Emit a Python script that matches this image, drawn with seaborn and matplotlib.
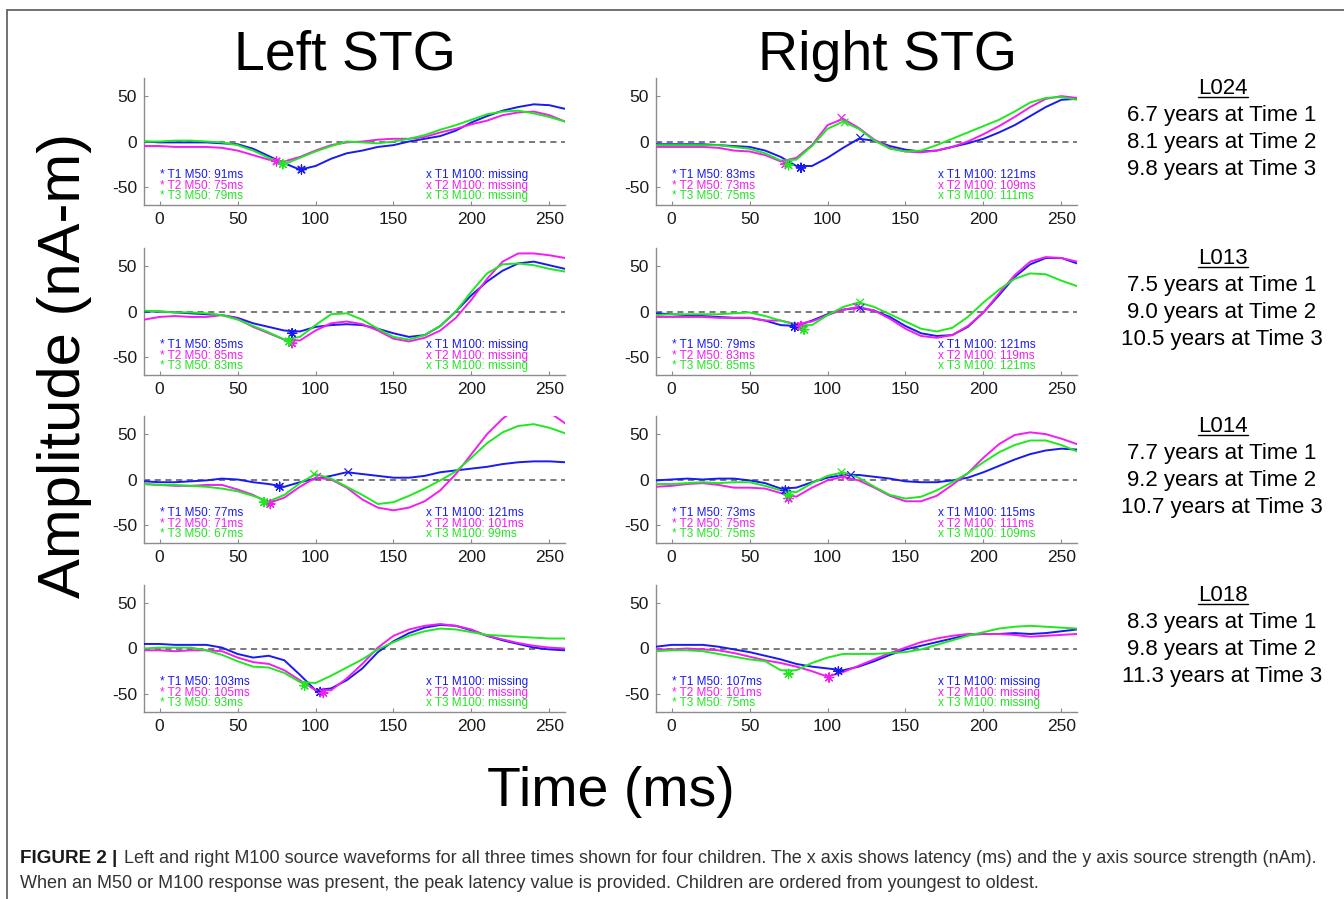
import pandas as pd
import matplotlib.pyplot as plt
import seaborn as sns
from matplotlib.lines import Line2D
from matplotlib import font_manager

####################################
# sampled waveforms, every 10 ms from -10 to 260 ms
time_ms = [-10, 0, 10, 20, 30, 40, 50, 60, 70, 80, 90, 100, 110, 120, 130,
           140, 150, 160, 170, 180, 190, 200, 210, 220, 230, 240, 250, 260]

# L024
l024_left_t1 = [0, -1, -1, -1, -1, -2, -3, -8, -16, -24, -31, -27, -19, -13, -10,
                -6, -4, 0, 3, 6, 12, 21, 28, 34, 38, 41, 40, 36]
l024_left_t2 = [-5, -5, -6, -6, -6, -7, -10, -15, -20, -22, -17, -10, -4, -1, 0,
                2, 3, 3, 5, 10, 14, 19, 23, 29, 32, 33, 29, 22]
l024_left_t3 = [0, 0, 1, 1, 0, -1, -4, -10, -18, -25, -18, -11, -5, 0, -1,
                -2, 0, 3, 7, 13, 18, 24, 30, 33, 34, 31, 27, 22]
l024_right_t1 = [-3, -3, -3, -3, -4, -5, -6, -10, -17, -27, -27, -18, -7, 3, 1,
                 -5, -9, -11, -10, -6, -2, 3, 10, 18, 28, 38, 46, 47]
l024_right_t2 = [-6, -6, -6, -6, -7, -10, -11, -15, -22, -18, -4, 18, 25, 15, 2,
                 -7, -11, -12, -10, -6, 0, 8, 17, 27, 38, 47, 50, 48]
l024_right_t3 = [-4, -4, -4, -4, -4, -6, -8, -13, -21, -20, -5, 14, 22, 14, 1,
                 -8, -11, -10, -4, 3, 10, 17, 24, 33, 43, 48, 49, 46]

# L013
l013_left_t1 = [0, 0, -1, -2, -3, -4, -7, -13, -17, -21, -22, -17, -15, -14, -15,
                -19, -24, -28, -26, -16, 0, 18, 33, 45, 53, 55, 51, 47]
l013_left_t2 = [-9, -6, -5, -6, -6, -4, -8, -17, -24, -31, -32, -21, -13, -11, -14,
                -21, -30, -33, -29, -21, -7, 13, 36, 55, 64, 64, 62, 59]
l013_left_t3 = [1, 0, -1, -1, -2, -4, -9, -16, -23, -31, -28, -15, -3, -2, -9,
                -19, -28, -31, -26, -16, 0, 22, 42, 52, 53, 51, 47, 44]
l013_right_t1 = [-2, -3, -4, -5, -6, -7, -7, -10, -15, -16, -10, -3, 2, 4, 1,
                 -6, -16, -24, -27, -26, -17, -1, 18, 38, 52, 59, 59, 53]
l013_right_t2 = [-6, -6, -6, -6, -7, -7, -7, -10, -10, -14, -11, -4, 2, 5, 1,
                 -8, -19, -27, -29, -26, -16, -1, 20, 40, 55, 60, 59, 55]
l013_right_t3 = [-4, -3, -3, -3, -3, -2, -1, -5, -10, -15, -15, -4, 5, 10, 5,
                 -3, -11, -19, -22, -18, -6, 10, 24, 36, 42, 41, 34, 28]

# L014
l014_left_t1 = [-2, -3, -3, -2, -1, 1, 0, -3, -5, -8, -3, 1, 4, 8, 6,
                4, 2, 2, 4, 8, 10, 12, 14, 17, 19, 20, 20, 19]
l014_left_t2 = [-5, -6, -7, -7, -6, -6, -11, -17, -26, -20, -8, 2, 0, -9, -22,
                -31, -34, -31, -24, -12, 6, 28, 50, 67, 80, 82, 74, 62]
l014_left_t3 = [-5, -6, -6, -7, -8, -10, -13, -18, -24, -17, -4, 6, 1, -8, -17,
                -27, -25, -18, -10, -1, 9, 24, 40, 52, 59, 61, 57, 51]
l014_right_t1 = [-1, 0, 1, 0, 1, 1, -1, -4, -10, -9, -3, 2, 5, 5, 3,
                 1, -2, -3, -3, -1, 2, 8, 15, 22, 28, 32, 34, 33]
l014_right_t2 = [-8, -7, -5, -4, -6, -9, -9, -10, -15, -19, -9, -1, 3, -1, -9,
                 -18, -24, -24, -18, -6, 7, 24, 39, 49, 52, 50, 45, 39]
l014_right_t3 = [-5, -5, -4, -3, -4, -3, -3, -7, -12, -14, -4, 4, 8, 2, -8,
                 -17, -21, -19, -12, -3, 7, 19, 30, 38, 43, 43, 38, 31]

# L018
l018_left_t1 = [5, 5, 4, 4, 4, 1, -6, -10, -8, -13, -29, -46, -44, -35, -22,
                -4, 8, 17, 23, 26, 25, 20, 14, 9, 5, 1, -1, -2]
l018_left_t2 = [-2, -2, -3, -2, -2, -3, -10, -15, -17, -24, -35, -46, -46, -33, -17,
                1, 14, 21, 25, 27, 25, 21, 14, 10, 6, 3, 1, 0]
l018_left_t3 = [0, 1, 1, 1, -2, -7, -14, -20, -21, -27, -37, -38, -30, -21, -12,
                -1, 7, 14, 19, 22, 21, 18, 15, 14, 13, 12, 11, 11]
l018_right_t1 = [2, 4, 4, 4, 2, -1, -4, -8, -12, -17, -20, -22, -24, -20, -14,
                 -7, -1, 3, 7, 11, 15, 16, 16, 17, 16, 17, 19, 21]
l018_right_t2 = [-1, -1, 0, -1, -2, -5, -9, -13, -16, -20, -25, -31, -26, -19, -12,
                 -5, 1, 7, 11, 14, 16, 16, 16, 15, 13, 14, 15, 16]
l018_right_t3 = [-3, -2, -2, -3, -6, -9, -12, -14, -24, -24, -16, -10, -6, -6, -6,
                 -5, -4, -1, 4, 9, 14, 18, 22, 24, 25, 24, 23, 22]

# peak picks (T1, T2, T3); None = missing
l024_left_m50 = [91, 75, 79]
l024_left_m50_amp = [-31, -22, -25]
l024_left_m100 = [None, None, None]
l024_left_m100_amp = [None, None, None]
l024_right_m50 = [83, 73, 75]
l024_right_m50_amp = [-29, -25, -26]
l024_right_m100 = [121, 109, 111]
l024_right_m100_amp = [4, 26, 21]

l013_left_m50 = [85, 85, 83]
l013_left_m50_amp = [-24, -35, -33]
l013_left_m100 = [None, None, None]
l013_left_m100_amp = [None, None, None]
l013_right_m50 = [79, 83, 85]
l013_right_m50_amp = [-17, -16, -20]
l013_right_m100 = [121, 119, 121]
l013_right_m100_amp = [4, 5, 10]

l014_left_m50 = [77, 71, 67]
l014_left_m50_amp = [-8, -27, -25]
l014_left_m100 = [121, 101, 99]
l014_left_m100_amp = [8, 3, 6]
l014_right_m50 = [73, 75, 75]
l014_right_m50_amp = [-12, -21, -17]
l014_right_m100 = [115, 111, 109]
l014_right_m100_amp = [5, 3, 8]

l018_left_m50 = [103, 105, 93]
l018_left_m50_amp = [-48, -49, -41]
l018_left_m100 = [None, None, None]
l018_left_m100_amp = [None, None, None]
l018_right_m50 = [107, 101, 75]
l018_right_m50_amp = [-25, -32, -28]
l018_right_m100 = [None, None, None]
l018_right_m100_amp = [None, None, None]

children = ['L024', 'L013', 'L014', 'L018']
ages = {
    'L024': [6.7, 8.1, 9.8],
    'L013': [7.5, 9.0, 10.5],
    'L014': [7.7, 9.2, 10.7],
    'L018': [8.3, 9.8, 11.3],
}
sessions = ['T1', 'T2', 'T3']
hemis = ['Left', 'Right']

caption_1 = ('Left and right M100 source waveforms for all three times shown for four children. '
             'The x axis shows latency (ms) and the y axis source strength (nAm).')
caption_2 = ('When an M50 or M100 response was present, the peak latency value is provided. '
             'Children are ordered from youngest to oldest.')
####################################

g = globals()
rows = []
for child in children:
    for hemi in hemis:
        for s in sessions:
            vals = g[f'{child.lower()}_{hemi.lower()}_{s.lower()}']
            for t, a in zip(time_ms, vals):
                rows.append({'child': child, 'hemi': hemi, 'session': s, 'time': t, 'amp': a})
df = pd.DataFrame(rows)

colors = {'T1': '#1a1af2', 'T2': '#f21df2', 'T3': '#1fe81f'}

sns.set_style('ticks')
plt.rcParams['font.family'] = ['Liberation Sans', 'DejaVu Sans']
plt.rcParams['text.color'] = 'black'
plt.rcParams['axes.unicode_minus'] = False

W, H = 1344, 899
fig = plt.figure(figsize=(W / 100, H / 100), dpi=100)

col_left = {'Left': 144, 'Right': 656}
ax_w = 421
row_top = [78, 248, 416, 585]
ax_h = 127
axis_grey = '#8c8c8c'

for r, child in enumerate(children):
    for hemi in hemis:
        ax = fig.add_axes([col_left[hemi] / W, 1 - (row_top[r] + ax_h) / H, ax_w / W, ax_h / H])
        sub = df[(df.child == child) & (df.hemi == hemi)]
        ax.axhline(0, color='#555555', lw=1.1, ls=(0, (4, 3)), zorder=1)
        sns.lineplot(data=sub, x='time', y='amp', hue='session', hue_order=sessions,
                     palette=colors, legend=False, ax=ax, linewidth=1.4, zorder=3)

        key = f'{child.lower()}_{hemi.lower()}'
        m50, m50a = g[key + '_m50'], g[key + '_m50_amp']
        m100, m100a = g[key + '_m100'], g[key + '_m100_amp']
        sns.scatterplot(x=m50, y=m50a, hue=sessions, hue_order=sessions, palette=colors,
                        marker=(8, 2, 0), s=45, linewidth=0.9, legend=False, ax=ax, zorder=4)
        pk = [(t, a, s) for t, a, s in zip(m100, m100a, sessions) if t is not None]
        if pk:
            sns.scatterplot(x=[p[0] for p in pk], y=[p[1] for p in pk], hue=[p[2] for p in pk],
                            hue_order=sessions, palette=colors, marker='x', s=30,
                            linewidth=0.9, legend=False, ax=ax, zorder=4)

        for i, s in enumerate(sessions):
            yy = -37 - 11.7 * i
            ax.text(0, yy, f'* {s} M50: {m50[i]}ms', color=colors[s], fontsize=8.5, va='center')
            lab = 'missing' if m100[i] is None else f'{m100[i]}ms'
            ax.text(171, yy, f'x {s} M100: {lab}', color=colors[s], fontsize=8.5, va='center')

        ax.set_xlim(-10, 260)
        ax.set_ylim(-70, 70)
        ax.set_xticks([0, 50, 100, 150, 200, 250])
        ax.set_yticks([-50, 0, 50])
        ax.set_xlabel('')
        ax.set_ylabel('')
        for sp in ['top', 'right']:
            ax.spines[sp].set_visible(False)
        for sp in ['left', 'bottom']:
            ax.spines[sp].set_color(axis_grey)
            ax.spines[sp].set_linewidth(1.0)
        ax.tick_params(direction='in', length=3, width=0.8, color=axis_grey,
                       labelcolor='#1a1a1a', labelsize=12.5, pad=5)

# big titles
fig.text(345 / W, 1 - 70 / H, 'Left STG', fontsize=40, ha='center', va='baseline')
fig.text(887 / W, 1 - 70 / H, 'Right STG', fontsize=40, ha='center', va='baseline')
fig.text(65 / W, 1 - 365 / H, 'Amplitude (nA-m)', fontsize=43, rotation=90,
         ha='center', va='center')
fig.text(611 / W, 1 - 806 / H, 'Time (ms)', fontsize=40, ha='center', va='baseline')

# child labels on the right
fig.canvas.draw()
rend = fig.canvas.get_renderer()
for r, child in enumerate(children):
    base = row_top[r] + 16
    lab = fig.text(1223 / W, 1 - base / H, child, fontsize=16, ha='center', va='baseline')
    bb = lab.get_window_extent(rend)
    uy = bb.y0 + 2
    fig.add_artist(Line2D([bb.x0 / W, bb.x1 / W], [uy / H, uy / H], color='black', lw=1.0,
                          transform=fig.transFigure))
    for i in range(3):
        fig.text(1222 / W, 1 - (base + 27 * (i + 1)) / H,
                 f'{ages[child][i]:.1f} years at Time {i + 1}',
                 fontsize=16, ha='center', va='baseline')

# frame
fig.add_artist(Line2D([7 / W, 7 / W], [0, 1 - 10 / H], color='#666666', lw=1.3,
                      transform=fig.transFigure))
fig.add_artist(Line2D([7 / W, 1], [1 - 10 / H, 1 - 10 / H], color='#666666', lw=1.3,
                      transform=fig.transFigure))

# caption
names = {f.name for f in font_manager.fontManager.ttflist}
cap_font = 'Liberation Sans Narrow' if 'Liberation Sans Narrow' in names else 'Liberation Sans'
cap_size = 12
bold = fig.text(20 / W, 1 - 863 / H, 'FIGURE 2 |', fontsize=cap_size, weight='bold',
                family=cap_font, color='#1a1a1a', va='baseline')
bw = bold.get_window_extent(rend).width
if bw > 0:
    bold.set_fontsize(cap_size * 97 / bw)
line1 = fig.text(124 / W, 1 - 863 / H, caption_1, fontsize=cap_size, family=cap_font,
                 color='#333333', va='baseline')
w1 = line1.get_window_extent(rend).width
fs = cap_size * 1194 / w1
line1.set_fontsize(fs)
fig.text(20 / W, 1 - 888 / H, caption_2, fontsize=fs, family=cap_font,
         color='#333333', va='baseline')

plt.savefig('out.png', dpi=100)
